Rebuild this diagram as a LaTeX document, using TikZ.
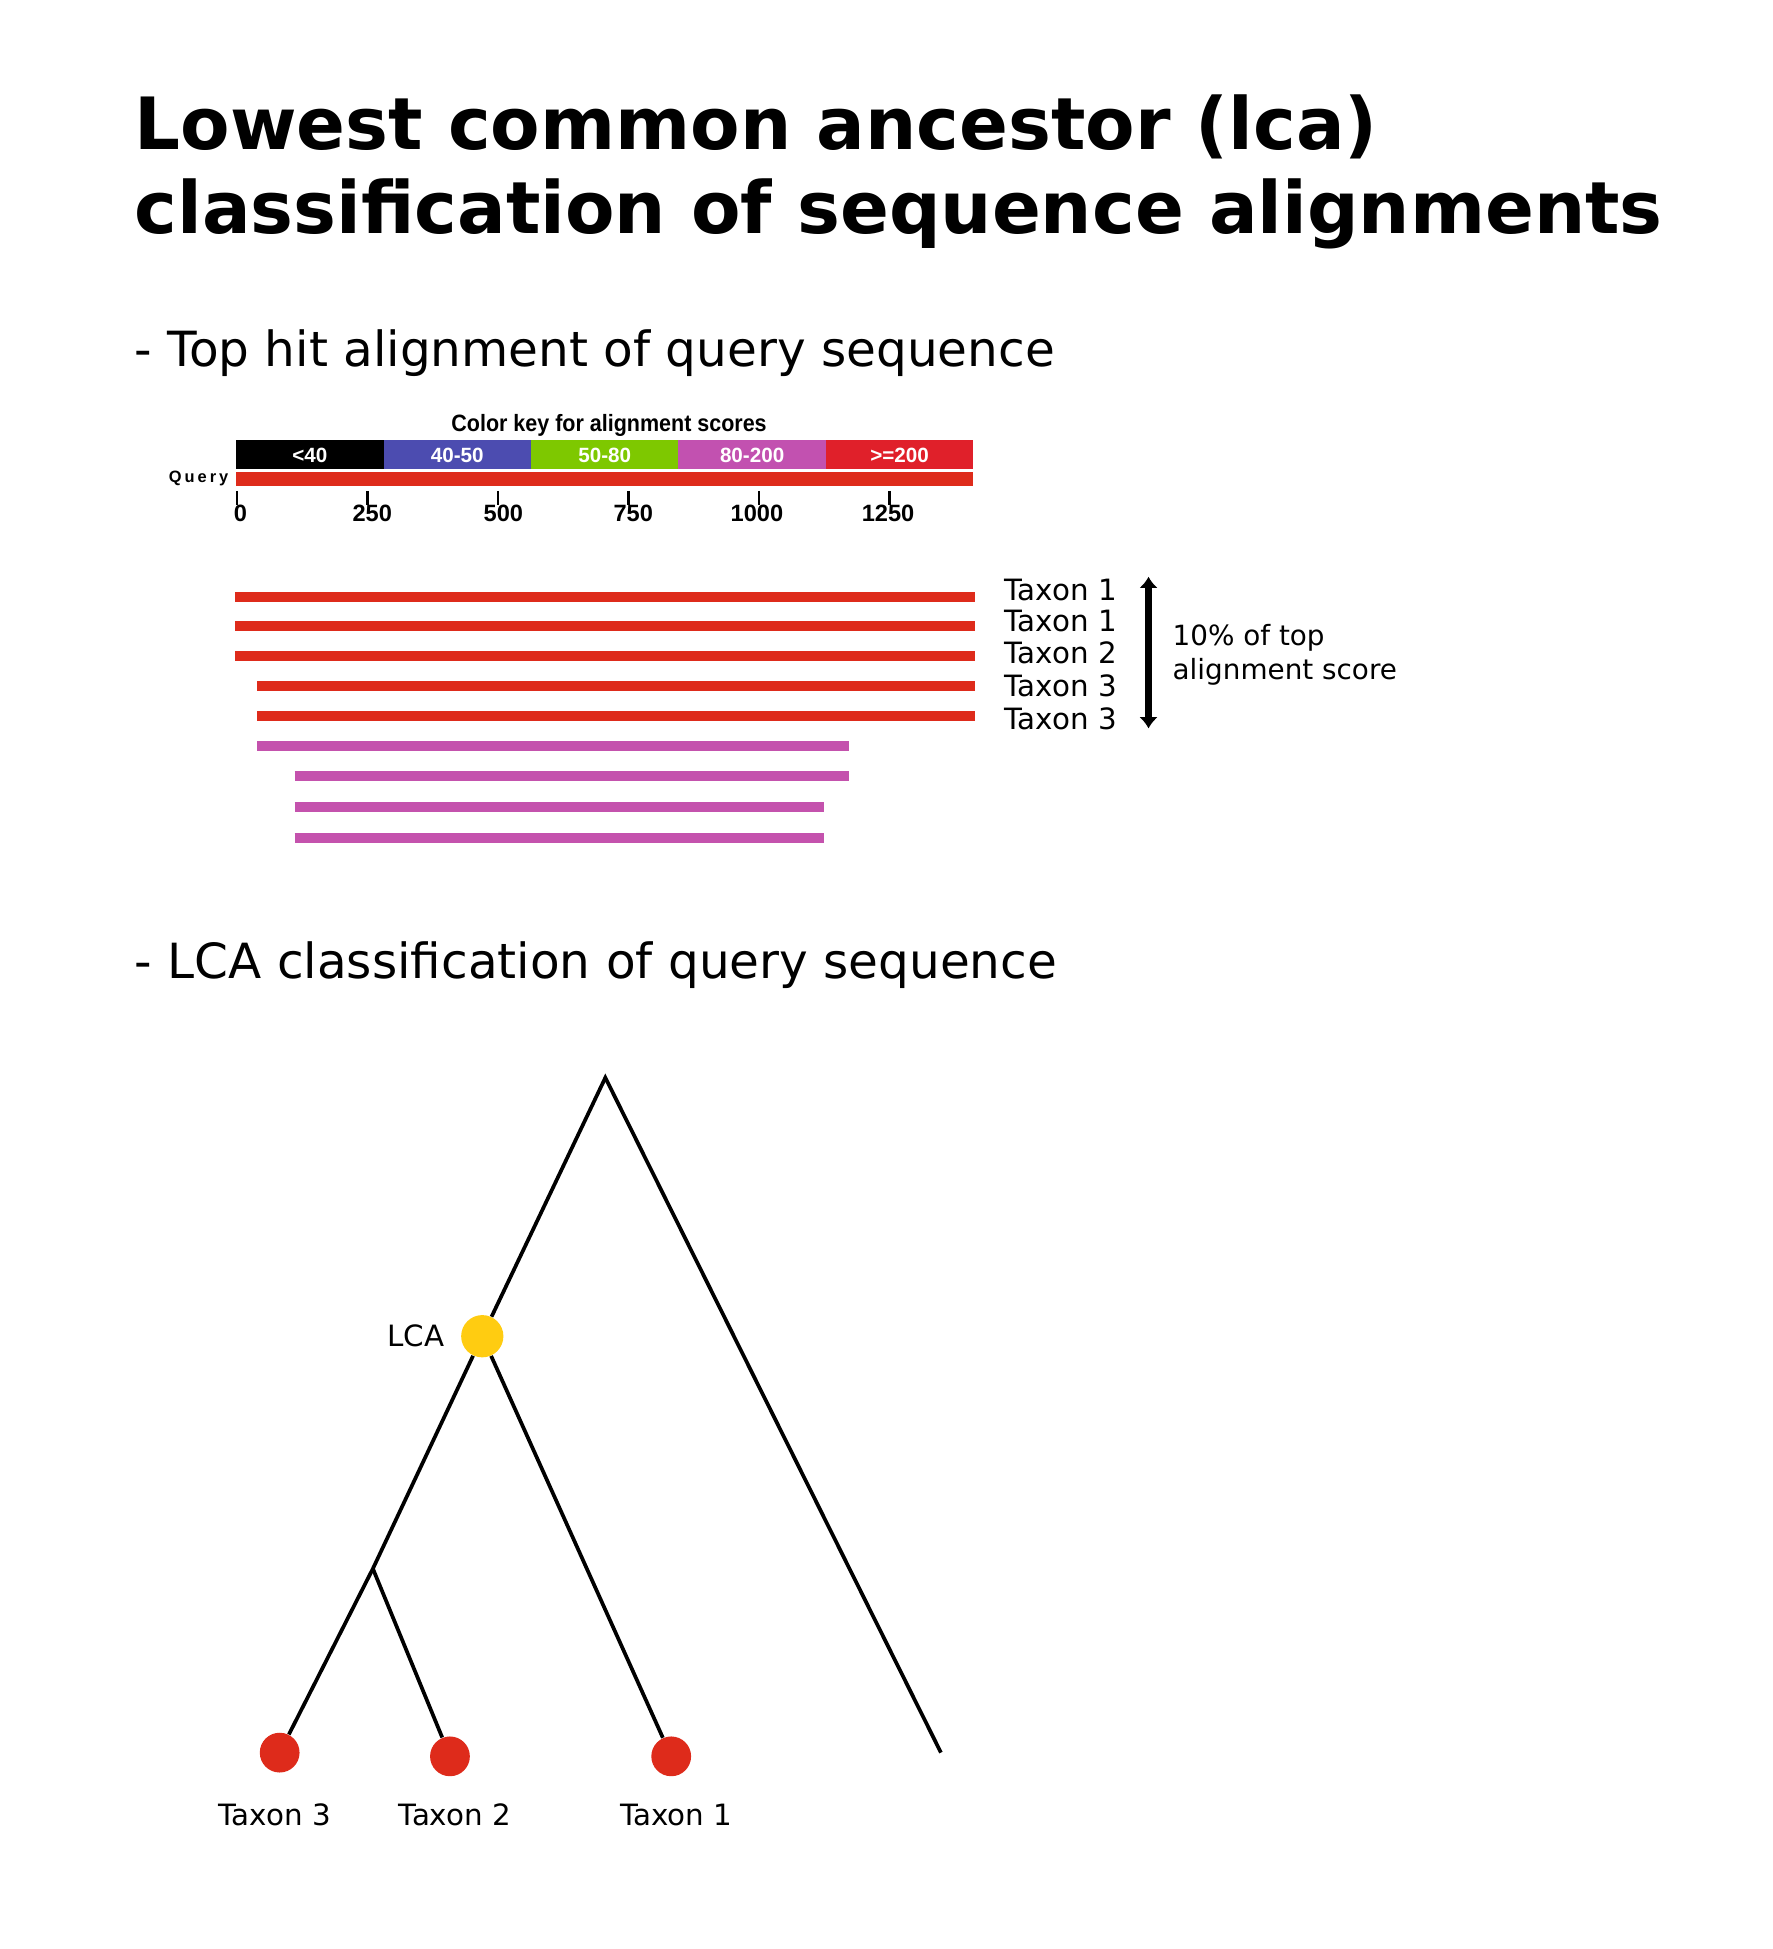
\documentclass[tikz,border=0pt]{standalone}
\usepackage{fontspec}
\setmainfont{DejaVu Sans}
\newfontfamily\keyfont{Liberation Sans}
\newfontfamily\keynarrow[FakeStretch=0.91]{Liberation Sans}
\newfontfamily\keyspaced[LetterSpace=18]{Liberation Sans}
\usetikzlibrary{positioning,arrows.meta}
\definecolor{keyblue}{RGB}{76,76,176}
\definecolor{keygreen}{RGB}{126,200,0}
\definecolor{keymagenta}{RGB}{194,81,176}
\definecolor{keyred}{RGB}{224,32,42}
\definecolor{barred}{RGB}{222,43,27}
\definecolor{barmagenta}{RGB}{196,82,173}
\definecolor{lcayellow}{RGB}{255,204,17}

\begin{document}
\begin{tikzpicture}[
    x=0.5pt, y=-0.5pt,
    heading/.style={anchor=base west, inner sep=0pt, font=\fontsize{29}{34}\selectfont\bfseries},
    subheading/.style={anchor=base west, inner sep=0pt, font=\fontsize{19.5}{24}\selectfont},
    taxtext/.style={font=\fontsize{11.8}{14}\selectfont},
    scoretext/.style={anchor=base west, inner sep=0pt, font=\fontsize{11.2}{13}\selectfont},
    keytitle/.style={inner sep=0pt, font=\keynarrow\bfseries\fontsize{9.5}{11}\selectfont},
    keylabel/.style={inner sep=0pt, text=white, font=\keyfont\bfseries\fontsize{8.3}{10}\selectfont},
    ticklabel/.style={inner sep=0pt, font=\keyfont\bfseries\fontsize{9.5}{11}\selectfont},
    bar/.style={line width=4pt},
    branch/.style={line width=1.5pt},
    lcadot/.style={circle, fill=lcayellow, inner sep=0pt, minimum size=17pt},
    leafdot/.style={circle, fill=barred, inner sep=0pt, minimum size=16pt},
    bigarrow/.style={line width=3pt, {Latex[length=4.5pt,width=7.5pt]}-{Latex[length=4.5pt,width=7.5pt]}}
]
\useasboundingbox (0,0) rectangle (1426,1568);

\node[heading] (title1) at (108,120) {Lowest common ancestor (lca)};
\node[heading] (title2) at (108,188) {classification of sequence alignments};
\node[subheading] (sub1) at (108,295) {- Top hit alignment of query sequence};
\node[subheading] (sub2) at (108,787) {- LCA classification of query sequence};

\node[keytitle] (keyhead) at (490,342) {Color key for alignment scores};
\foreach \col/\txt [count=\i from 0] in {black/{<40}, keyblue/{40-50}, keygreen/{50-80}, keymagenta/{80-200}, keyred/{>=200}} {
    \fill[\col] (190+118.6*\i,354) rectangle ++(118.6,23);
    \node[keylabel] (key\i) at (249.3+118.6*\i,366) {\txt};
}
\node[inner sep=0pt, anchor=east, font=\keyspaced\bfseries\fontsize{6.6}{8}\selectfont] (query) at (184,385) {Query};
\fill[barred] (190,380) rectangle (783,391);
\foreach \v/\lx [count=\i from 0] in {0/193.5, 250/299.5, 500/405, 750/509.5, 1000/609, 1250/714.5} {
    \draw[line width=1pt] (190.7+105*\i,395) -- ++(0,11);
    \node[ticklabel] (tick\i) at (\lx,413) {\v};
}

\foreach \ya/\xa/\xb/\col in {480/189/784/barred, 504/189/784/barred, 528/189/784/barred, 552/207/784/barred, 576/207/784/barred, 600/207/683/barmagenta, 624/237/683/barmagenta, 649/237/663/barmagenta, 674/237/663/barmagenta}
    \draw[bar, \col] (\xa,\ya) -- (\xb,\ya);

\foreach \t/\yb [count=\i] in {1/483, 1/508, 2/534, 3/560, 3/587}
    \node[taxtext, anchor=base west, inner sep=0pt] (hit\i) at (808,\yb) {Taxon \t};
\coordinate (arrtop) at (924,464);
\coordinate (arrbot) at (924,586);
\draw[bigarrow] (arrtop) -- (arrbot);
\node[scoretext] (score1) at (943,519) {10\% of top};
\node[scoretext] (score2) at (943,547) {alignment score};

\coordinate (apex) at (487,867);
\coordinate (split) at (300,1262);
\coordinate (rend) at (757,1410);
\node[lcadot] (lca) at (388,1075) {};
\node[leafdot] (t3) at (225,1410) {};
\node[leafdot] (t2) at (362,1413) {};
\node[leafdot] (t1) at (540,1413) {};
\draw[branch] (lca) -- (apex) -- (rend);
\draw[branch] (lca) -- (split) -- (t3);
\draw[branch] (split) -- (t2);
\draw[branch] (lca) -- (t1);
\node[taxtext, left=3pt of lca] (lcatext) {LCA};
\node[taxtext, below=9pt of t3, xshift=-2pt] (t3text) {Taxon 3};
\node[taxtext, below=7.5pt of t2, xshift=2pt] (t2text) {Taxon 2};
\node[taxtext, below=7.5pt of t1, xshift=2pt] (t1text) {Taxon 1};
\end{tikzpicture}
\end{document}
